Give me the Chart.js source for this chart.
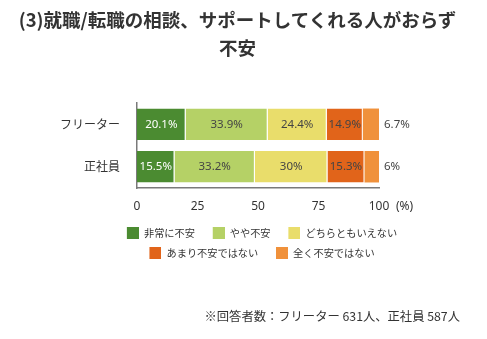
<!DOCTYPE html>
<html><head><meta charset="utf-8">
<script src="https://cdn.jsdelivr.net/npm/chart.js@4"></script>
<style>
html,body{margin:0;padding:0;background:#fff;width:487px;height:339px;overflow:hidden;font-family:"Noto Sans CJK JP",sans-serif;}
#wrap{position:absolute;left:0;top:0;width:487px;height:339px;}
#title{position:absolute;left:0;top:6px;width:475px;text-align:center;font-weight:bold;font-size:18.5px;line-height:27.5px;color:#333;white-space:nowrap;}
#note{position:absolute;right:27px;top:308px;font-size:12.3px;line-height:16px;color:#333;white-space:nowrap;}
</style></head><body>
<div id="wrap"><canvas id="c" width="487" height="339"></canvas></div>
<div id="title">(3)就職/転職の相談、サポートしてくれる人がおらず<br>不安</div>
<div id="note">※回答者数：フリーター 631人、正社員 587人</div>
<script>
const categories = ['フリーター', '正社員'];
const seriesNames = ['非常に不安', 'やや不安', 'どちらともいえない', 'あまり不安ではない', '全く不安ではない'];
const veryAnxious = [20.1, 15.5];
const somewhatAnxious = [33.9, 33.2];
const neutral = [24.4, 30];
const notVeryAnxious = [14.9, 15.3];
const notAtAllAnxious = [6.7, 6];
const xTicks = [0, 25, 50, 75, 100];
const axisUnit = '(%)';
const colors = ['#4b8b31', '#b5d166', '#e9dd6b', '#e1641a', '#f0913b'];

const seriesValues = [veryAnxious, somewhatAnxious, neutral, notVeryAnxious, notAtAllAnxious];
const numFont = '"Noto Sans", "Noto Sans CJK JP", sans-serif';
const jpFont = '"Noto Sans CJK JP", sans-serif';

// legend swatches: colored square with blank space on its left
const swatches = colors.map(c => {
  const cv = document.createElement('canvas');
  cv.width = 20; cv.height = 12;
  const g = cv.getContext('2d');
  g.fillStyle = c;
  g.fillRect(8, 0, 12, 12);
  return cv;
});

const labelPlugin = {
  id: 'barLabels',
  afterDatasetsDraw(chart) {
    const ctx = chart.ctx;
    ctx.save();
    ctx.font = '11.5px ' + numFont;
    ctx.textBaseline = 'middle';
    const last = chart.data.datasets.length - 1;
    chart.data.datasets.forEach((ds, di) => {
      const meta = chart.getDatasetMeta(di);
      meta.data.forEach((el, i) => {
        const txt = ds.data[i] + '%';
        if (di === last) {
          ctx.textAlign = 'left';
          ctx.fillStyle = '#444';
          ctx.fillText(txt, el.x + 5, el.y);
        } else {
          ctx.textAlign = 'center';
          ctx.fillStyle = di === 0 ? '#ffffff' : '#444';
          ctx.fillText(txt, (el.x + el.base) / 2, el.y);
        }
      });
    });
    const xs = chart.scales.x;
    ctx.font = '12px ' + numFont;
    ctx.fillStyle = '#333';
    ctx.textAlign = 'left';
    ctx.fillText(axisUnit, xs.right + 17, xs.top + 11 + 7.2);
    ctx.restore();
  }
};

new Chart(document.getElementById('c'), {
  type: 'bar',
  data: {
    labels: categories,
    datasets: seriesNames.map((name, i) => ({
      label: name,
      data: seriesValues[i],
      backgroundColor: colors[i],
      borderColor: 'rgba(255,255,255,0.55)',
      borderWidth: i < seriesNames.length - 1 ? {top: 0, right: 1, bottom: 0, left: 0} : 0,
      borderSkipped: false,
      categoryPercentage: 1,
      barPercentage: 0.74
    }))
  },
  options: {
    indexAxis: 'y',
    responsive: false,
    animation: false,
    layout: { padding: { left: 50, right: 21, top: 103, bottom: 71 } },
    scales: {
      x: {
        stacked: true,
        min: 0, max: 100,
        grid: { display: false, drawTicks: false },
        border: { display: true, color: '#7a7a7a', width: 1.5 },
        afterBuildTicks(s) { s.ticks = xTicks.map(v => ({ value: v })); },
        afterFit(s) { s.height = 30; s.paddingRight = 108; },
        ticks: { padding: 11, color: '#333', font: { size: 12, family: numFont } }
      },
      y: {
        stacked: true,
        grid: { display: false, drawTicks: false },
        border: { display: true, color: '#7a7a7a', width: 1.5 },
        afterFit(s) { s.width = 87; },
        ticks: { padding: 17, color: '#333', font: { size: 12, family: jpFont } }
      }
    },
    plugins: {
      tooltip: { enabled: false },
      legend: {
        position: 'bottom',
        labels: {
          usePointStyle: true,
          pointStyleWidth: 20,
          padding: 9.8,
          color: '#333',
          font: { size: 10.2, family: jpFont },
          generateLabels(chart) {
            const items = Chart.defaults.plugins.legend.labels.generateLabels(chart);
            items.forEach((it, i) => { it.pointStyle = swatches[i]; });
            return items;
          }
        }
      }
    }
  },
  plugins: [labelPlugin]
});
</script>
</body></html>
